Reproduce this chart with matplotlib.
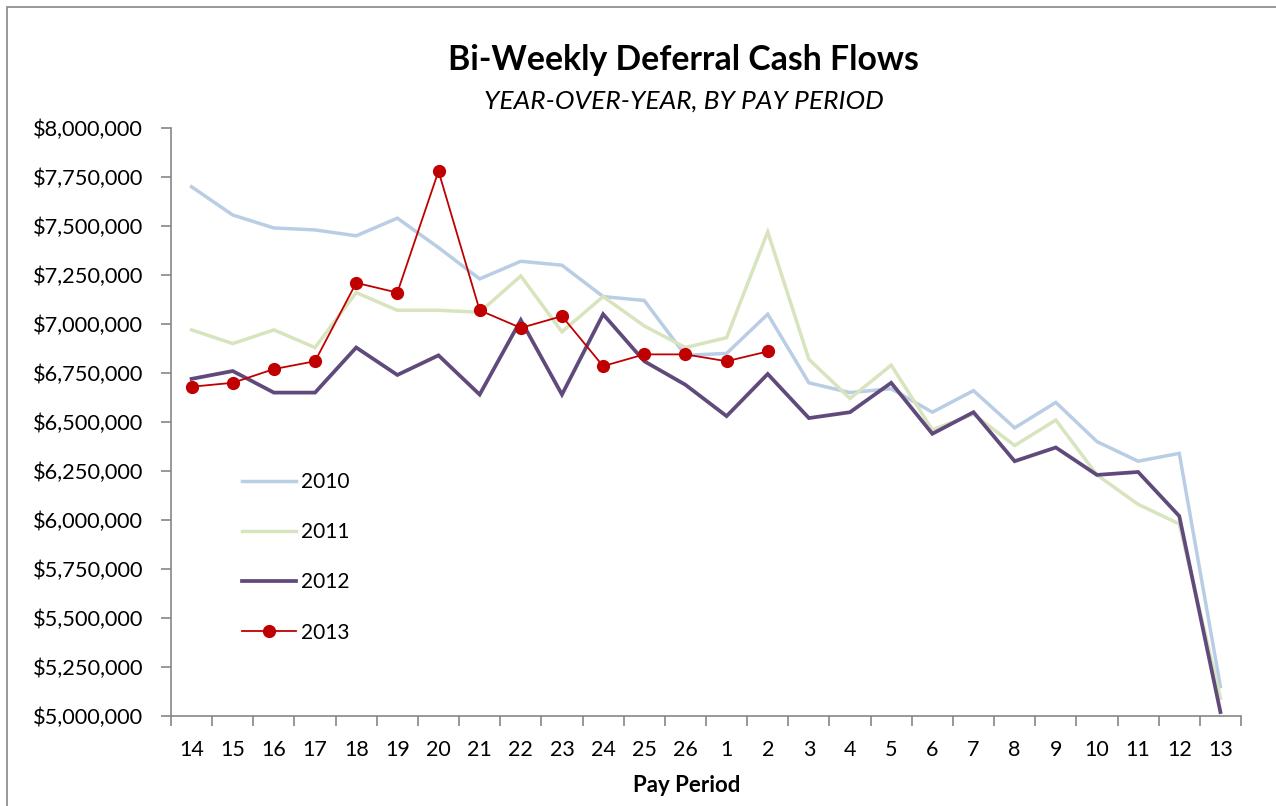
import matplotlib.pyplot as plt
from matplotlib.patches import Rectangle
from matplotlib.ticker import FuncFormatter, FixedLocator

# pay periods, fiscal year starts at 14
periods = ['14', '15', '16', '17', '18', '19', '20', '21', '22', '23', '24', '25', '26',
           '1', '2', '3', '4', '5', '6', '7', '8', '9', '10', '11', '12', '13']

y2010 = [7700000, 7556000, 7490000, 7480000, 7450000, 7540000, 7390000, 7230000, 7320000,
         7300000, 7140000, 7120000, 6840000, 6850000, 7050000, 6700000, 6650000, 6670000,
         6550000, 6660000, 6470000, 6600000, 6400000, 6300000, 6340000, 5150000]
y2011 = [6970000, 6900000, 6970000, 6880000, 7160000, 7070000, 7070000, 7060000, 7245000,
         6960000, 7140000, 6990000, 6880000, 6930000, 7470000, 6820000, 6620000, 6790000,
         6460000, 6540000, 6380000, 6510000, 6230000, 6080000, 5980000, 5090000]
y2012 = [6720000, 6760000, 6650000, 6650000, 6880000, 6740000, 6840000, 6640000, 7020000,
         6640000, 7050000, 6810000, 6690000, 6530000, 6745000, 6520000, 6550000, 6700000,
         6440000, 6550000, 6300000, 6370000, 6230000, 6245000, 6020000, 5020000]
y2013 = [6680000, 6700000, 6770000, 6810000, 7210000, 7160000, 7780000, 7070000, 6980000,
         7040000, 6785000, 6845000, 6845000, 6810000, 6860000]

plt.rcParams['font.family'] = ['Lato', 'DejaVu Sans']

fig = plt.figure(figsize=(12.76, 8.06), dpi=100)
ax = fig.add_axes([171 / 1276, 1 - 716 / 806, 1070 / 1276, 588 / 806])

x = list(range(len(periods)))
ax.plot(x, y2010, color='#b9cde5', lw=2.5, label='2010', solid_joinstyle='miter')
ax.plot(x, y2011, color='#d7e4bd', lw=2.5, label='2011', solid_joinstyle='miter')
ax.plot(x, y2012, color='#604a7b', lw=2.7, label='2012', solid_joinstyle='miter')
ax.plot(x[:len(y2013)], y2013, color='#c00000', lw=1.3, marker='o', ms=8.5,
        label='2013')

ax.set_xlim(-0.5, len(periods) - 0.5)
ax.set_ylim(5000000, 8000000)
ax.set_yticks(range(5000000, 8000001, 250000))
ax.yaxis.set_major_formatter(FuncFormatter(lambda v, p: '${:,.0f}'.format(v)))
ax.set_xticks(x)
ax.set_xticklabels(periods)
ax.xaxis.set_minor_locator(FixedLocator([i - 0.5 for i in range(len(periods) + 1)]))

for s in ['top', 'right']:
    ax.spines[s].set_visible(False)
for s in ['left', 'bottom']:
    ax.spines[s].set_color('#868686')
    ax.spines[s].set_linewidth(1.2)

ax.tick_params(axis='y', direction='out', length=7, width=1.2, color='#868686',
               labelsize=15.7, pad=13)
ax.tick_params(axis='x', which='major', length=0, labelsize=15.5, pad=17)
ax.tick_params(axis='x', which='minor', direction='out', length=7, width=1.2,
               color='#868686')

ax.set_xlabel('Pay Period', fontsize=16, fontweight='bold')
ax.xaxis.set_label_coords(0.482, -(785 - 716) / 588, transform=ax.transAxes)
ax.xaxis.label.set_va('center')

leg = ax.legend(loc='upper left', bbox_to_anchor=(0.066, 0.415), frameon=False,
                fontsize=15, labelspacing=1.45, handlelength=2.6, handletextpad=0.25,
                borderpad=0, borderaxespad=0)

fig.text(683 / 1276, 1 - 60 / 806, 'Bi-Weekly Deferral Cash Flows', ha='center',
         va='center', fontsize=24.3, fontweight='bold')
fig.text(684 / 1276, 1 - 101 / 806, 'YEAR-OVER-YEAR, BY PAY PERIOD', ha='center',
         va='center', fontsize=19, fontstyle='italic')

fig.patches.append(Rectangle((7 / 1276, -0.1), 1.2, 1 - 7 / 806 + 0.1,
                             transform=fig.transFigure, fill=False,
                             edgecolor='#868686', lw=1.2))

fig.savefig('out.png', dpi=100)
